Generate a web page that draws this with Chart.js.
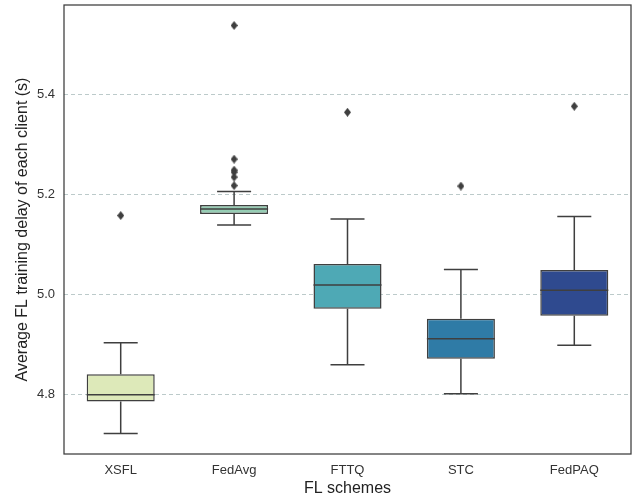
<!DOCTYPE html>
<html>
<head>
<meta charset="utf-8">
<script src="https://cdn.jsdelivr.net/npm/chart.js@4/dist/chart.umd.min.js"></script>
<style>
html,body{margin:0;padding:0;background:#fff;}
#wrap{width:644px;height:498px;position:relative;}
</style>
</head>
<body>
<div id="wrap"><canvas id="c" width="644" height="498"></canvas></div>
<script>
const categories = ["XSFL", "FedAvg", "FTTQ", "STC", "FedPAQ"];
const whiskerLow = [4.721, 5.139, 4.859, 4.801, 4.898];
const q1 = [4.785, 5.161, 4.971, 4.871, 4.957];
const median = [4.799, 5.171, 5.019, 4.911, 5.008];
const q3 = [4.840, 5.179, 5.061, 4.951, 5.049];
const whiskerHigh = [4.903, 5.206, 5.151, 5.050, 5.156];
const outlierCats = ["XSFL", "FedAvg", "FedAvg", "FedAvg", "FedAvg", "FedAvg", "FedAvg", "FTTQ", "STC", "FedPAQ"];
const outlierVals = [5.158, 5.539, 5.271, 5.249, 5.245, 5.235, 5.218, 5.365, 5.217, 5.377];
const yTicks = [4.8, 5.0, 5.2, 5.4];
const boxColors = ["#dde9b9", "#96cdb4", "#4ea9b5", "#2f7ba6", "#2f4a8f"];

const EDGE = "#3f3f3f";
const FONT = "'Liberation Sans', Arial, sans-serif";

// thin diamond marker
const dm = document.createElement('canvas');
dm.width = 7; dm.height = 9;
(function(){
  const g = dm.getContext('2d');
  g.fillStyle = EDGE;
  g.beginPath();
  g.moveTo(3.5, 0); g.lineTo(7, 4.5); g.lineTo(3.5, 9); g.lineTo(0, 4.5);
  g.closePath(); g.fill();
})();

const boxPlugin = {
  id: 'boxPlugin',
  beforeDatasetsDraw(chart) {
    const ctx = chart.ctx, x = chart.scales.x, y = chart.scales.y;
    const meta = chart.getDatasetMeta(0);
    ctx.save();
    ctx.strokeStyle = EDGE;
    ctx.lineWidth = 1.5;
    categories.forEach((c, i) => {
      const bar = meta.data[i];
      const cx = x.getPixelForValue(i);
      const half = bar.width / 4;
      const yl = y.getPixelForValue(whiskerLow[i]);
      const yh = y.getPixelForValue(whiskerHigh[i]);
      const y1 = y.getPixelForValue(q1[i]);
      const y3 = y.getPixelForValue(q3[i]);
      ctx.beginPath();
      ctx.moveTo(cx, yl); ctx.lineTo(cx, y1);
      ctx.moveTo(cx, y3); ctx.lineTo(cx, yh);
      ctx.moveTo(cx - half, yl); ctx.lineTo(cx + half, yl);
      ctx.moveTo(cx - half, yh); ctx.lineTo(cx + half, yh);
      ctx.stroke();
    });
    ctx.restore();
  },
  afterDatasetsDraw(chart) {
    const ctx = chart.ctx, x = chart.scales.x, y = chart.scales.y;
    const meta = chart.getDatasetMeta(0);
    ctx.save();
    ctx.strokeStyle = EDGE;
    ctx.lineWidth = 1.5;
    categories.forEach((c, i) => {
      const bar = meta.data[i];
      const cx = x.getPixelForValue(i);
      const hw = bar.width / 2;
      const ym = y.getPixelForValue(median[i]);
      ctx.beginPath();
      ctx.moveTo(cx - hw, ym); ctx.lineTo(cx + hw, ym);
      ctx.stroke();
    });
    const a = chart.chartArea;
    ctx.strokeStyle = "#3c3c3c";
    ctx.lineWidth = 1.25;
    ctx.strokeRect(a.left, a.top, a.right - a.left, a.bottom - a.top);
    ctx.restore();
  }
};

new Chart(document.getElementById('c'), {
  type: 'bar',
  data: {
    labels: categories,
    datasets: [{
      label: 'box',
      data: q1.map((v, i) => [v, q3[i]]),
      backgroundColor: boxColors,
      borderColor: EDGE,
      borderWidth: 1.5,
      borderSkipped: false,
      categoryPercentage: 1.0,
      barPercentage: 0.6,
      order: 2
    }, {
      type: 'line',
      label: 'outliers',
      data: outlierCats.map((c, i) => ({x: c, y: outlierVals[i]})),
      showLine: false,
      pointStyle: dm,
      pointRadius: 4,
      order: 1
    }]
  },
  options: {
    responsive: false,
    animation: false,
    devicePixelRatio: 1,
    layout: { padding: { left: 0, right: 13, top: 4, bottom: 0 } },
    plugins: { legend: { display: false }, tooltip: { enabled: false } },
    scales: {
      x: {
        type: 'category',
        grid: { display: false, drawTicks: false },
        border: { display: false },
        ticks: { color: '#333', font: { family: FONT, size: 13 }, padding: 9 },
        title: { display: true, text: 'FL schemes', color: '#222', font: { family: FONT, size: 16 }, padding: { top: 0, bottom: 0 } },
        afterFit(s) { s.height = 44; s.paddingLeft = 0; s.paddingRight = 0; }
      },
      y: {
        min: 4.68, max: 5.58,
        grid: { color: '#bccaca', lineWidth: 1, drawTicks: false },
        border: { display: false, dash: [4, 3] },
        afterBuildTicks(s) { s.ticks = yTicks.map(v => ({ value: v })); },
        ticks: { color: '#333', font: { family: FONT, size: 13 }, padding: 9, callback: v => Number(v).toFixed(1) },
        title: { display: true, text: 'Average FL training delay of each client (s)', color: '#222', font: { family: FONT, size: 16 }, padding: { top: 13, bottom: 0 } },
        afterFit(s) { s.width = 64; s.paddingTop = 0; s.paddingBottom = 0; }
      }
    }
  },
  plugins: [boxPlugin]
});
</script>
</body>
</html>
